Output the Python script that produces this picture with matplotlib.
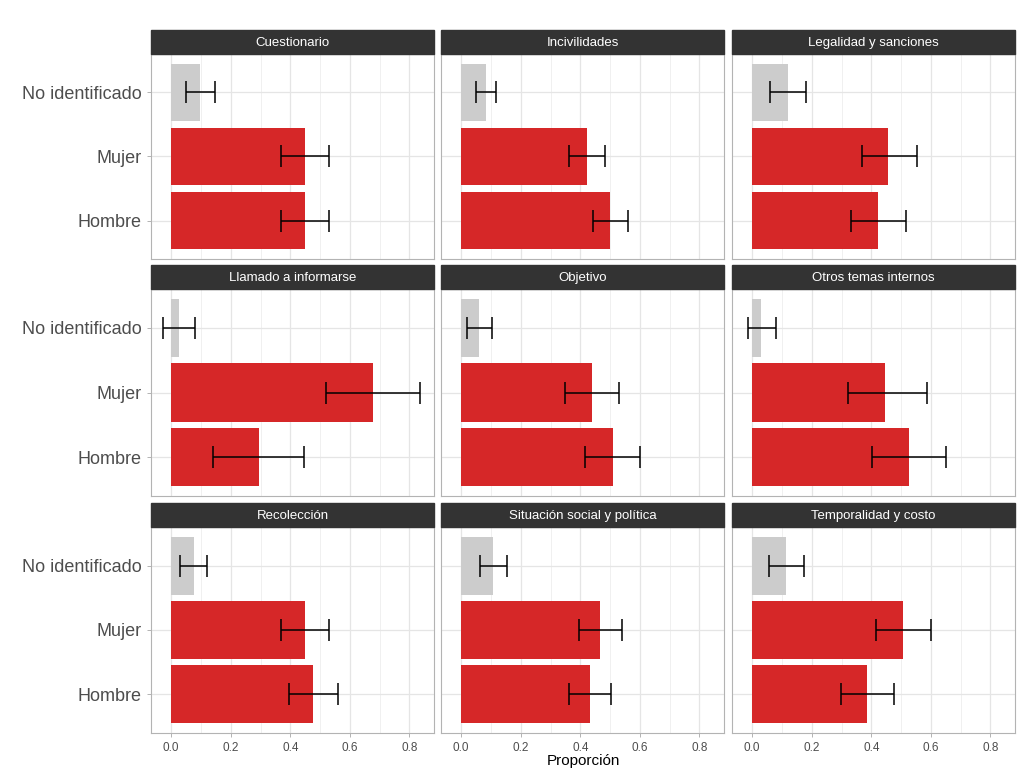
import matplotlib.pyplot as plt
from matplotlib.patches import Rectangle
from matplotlib.ticker import MultipleLocator

plt.rcParams["font.family"] = ["Liberation Sans", "DejaVu Sans"]

# panels in reading order
temas = [
    "Cuestionario", "Incivilidades", "Legalidad y sanciones",
    "Llamado a informarse", "Objetivo", "Otros temas internos",
    "Recolección", "Situación social y política", "Temporalidad y costo",
]
generos = ["Hombre", "Mujer", "No identificado"]

# proportion per panel: [Hombre, Mujer, No identificado]
prop = [
    [0.450, 0.450, 0.098],
    [0.500, 0.421, 0.084],
    [0.424, 0.457, 0.121],
    [0.296, 0.679, 0.027],
    [0.509, 0.439, 0.060],
    [0.528, 0.447, 0.031],
    [0.477, 0.450, 0.077],
    [0.432, 0.467, 0.108],
    [0.387, 0.508, 0.115],
]
lower = [
    [0.370, 0.370, 0.050],
    [0.444, 0.363, 0.050],
    [0.333, 0.370, 0.060],
    [0.141, 0.520, -0.027],
    [0.417, 0.350, 0.018],
    [0.403, 0.323, -0.013],
    [0.397, 0.370, 0.030],
    [0.363, 0.397, 0.064],
    [0.297, 0.416, 0.055],
]
upper = [
    [0.530, 0.530, 0.148],
    [0.561, 0.484, 0.118],
    [0.518, 0.555, 0.180],
    [0.447, 0.837, 0.080],
    [0.600, 0.531, 0.105],
    [0.652, 0.588, 0.081],
    [0.561, 0.530, 0.121],
    [0.504, 0.541, 0.155],
    [0.476, 0.602, 0.174],
]
colores = ["#D62728", "#D62728", "#CCCCCC"]

W, H = 1023, 776
fig = plt.figure(figsize=(W / 100, H / 100), dpi=100)

lefts = [151, 441, 732]
pw = 283
tops = [54, 289, 527]
ph = [205, 207, 206]
strip_h = 24

for i, tema in enumerate(temas):
    r, c = divmod(i, 3)
    ax = fig.add_axes([lefts[c] / W, 1 - (tops[r] + ph[r]) / H, pw / W, ph[r] / H])
    y = [1, 2, 3]
    ax.barh(y, prop[i], height=0.9, color=colores, zorder=2)
    xerr = [[p - lo for p, lo in zip(prop[i], lower[i])],
            [hi - p for p, hi in zip(prop[i], upper[i])]]
    ax.errorbar(prop[i], y, xerr=xerr, fmt="none", ecolor="black",
                elinewidth=1.1, capsize=8, capthick=1.1, zorder=3)
    ax.set_xlim(-0.068, 0.883)
    ax.set_ylim(0.4, 3.6)
    ax.xaxis.set_major_locator(MultipleLocator(0.2))
    ax.xaxis.set_minor_locator(MultipleLocator(0.1))
    ax.set_yticks(y)
    ax.grid(which="major", color="#E5E5E5", linewidth=0.9, zorder=0)
    ax.grid(which="minor", axis="x", color="#F0F0F0", linewidth=0.7, zorder=0)
    ax.set_axisbelow(True)
    for s in ax.spines.values():
        s.set_color("#B3B3B3")
        s.set_linewidth(0.8)
    ax.tick_params(which="major", length=3, color="#B3B3B3", width=0.7)
    ax.tick_params(which="minor", length=0)
    if c == 0:
        ax.set_yticklabels(generos, fontsize=13, color="#4D4D4D")
    else:
        ax.tick_params(axis="y", left=False, labelleft=False)
    if r == 2:
        ax.set_xticklabels([f"{v:.1f}" for v in ax.get_xticks()],
                           fontsize=8.5, color="#4D4D4D")
        ax.set_xlim(-0.068, 0.883)
    else:
        ax.tick_params(axis="x", bottom=False, labelbottom=False)
    # strip
    ax.add_patch(Rectangle((0, 1), 1, strip_h / ph[r], transform=ax.transAxes,
                           facecolor="#333333", edgecolor="#333333",
                           clip_on=False, zorder=5))
    ax.text(0.5, 1 + 8 / ph[r], tema, transform=ax.transAxes,
            ha="center", va="baseline", color="white", fontsize=9.5, zorder=6)

fig.text(583 / W, 1 - 761 / H, "Proporción", ha="center", va="center",
         fontsize=11, color="black")

fig.savefig("out.png", dpi=100)
